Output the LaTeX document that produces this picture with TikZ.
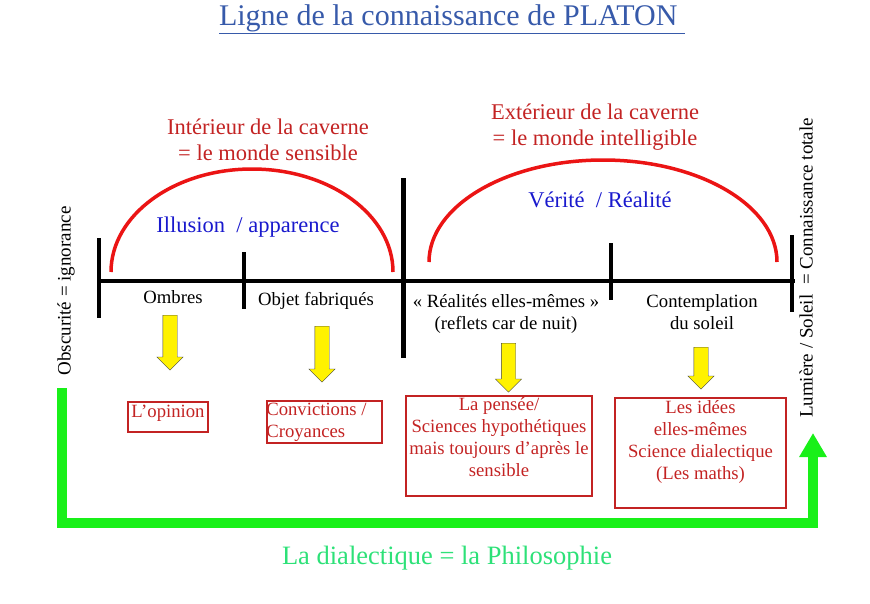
\documentclass[tikz,border=0pt]{standalone}
\usepackage{fontspec}
\setmainfont{Liberation Serif}
\usepackage{tikz}
\usetikzlibrary{shapes,arrows,arrows.meta}
\definecolor{titleblue}{RGB}{55,90,170}
\definecolor{darkred}{RGB}{195,35,35}
\definecolor{arcred}{RGB}{235,20,20}
\definecolor{txtblue}{RGB}{25,25,205}
\definecolor{brightgreen}{RGB}{25,240,25}
\definecolor{lightgreen}{RGB}{45,225,120}
\tikzstyle{zone} = [text=darkred, align=center, font=\fontsize{22.5}{25.5}\selectfont]
\tikzstyle{state} = [text=txtblue, font=\fontsize{22.5}{25}\selectfont]
\tikzstyle{stage} = [align=center, inner sep=0pt, font=\fontsize{18.7}{22}\selectfont]
\tikzstyle{pole} = [rotate=90, inner sep=0pt, font=\fontsize{19}{22}\selectfont]
\tikzstyle{level} = [draw=darkred, line width=1.8pt, rectangle, inner sep=0pt]
\tikzstyle{leveltext} = [text=darkred, align=center, inner sep=0pt, font=\fontsize{18.7}{22}\selectfont]
\tikzstyle{down} = [single arrow, draw=black!75, fill=yellow, rotate=-90, anchor=tail, inner xsep=0pt,
                    inner ysep=7pt, minimum width=26pt, single arrow head extend=6pt]
\tikzstyle{axis} = [line width=4.5pt]
\tikzstyle{dome} = [draw=arcred, line width=3.5pt]
\tikzstyle{dialectic} = [draw=brightgreen, line width=10pt, -{Triangle[width=26pt,length=24pt]}]

\begin{document}
\begin{tikzpicture}[x=1pt,y=-1pt]
                        \useasboundingbox (0,0) rectangle (870,603);
                        \node[text=titleblue, font=\fontsize{30}{34}\selectfont] (title) at (452,19)
                            {\underline{Ligne de la connaissance de PLATON\ }};

                        \coordinate (axisL) at (99,281);
                        \coordinate (axisR) at (795,281);
                        \draw[axis] (axisL) -- (axisR);
                        \draw[axis] (99,238) -- (99,318);
                        \draw[axis] (244,252) -- (244,309);
                        \draw[axis] (403.5,178) -- (403.5,358);
                        \draw[axis] (611,243) -- (611,300);
                        \draw[axis] (792,235) -- (792,312);

                        \coordinate (insideA) at (111,272);
                        \coordinate (outsideA) at (429,262);
                        \draw[dome] (insideA) arc[start angle=180, end angle=0, x radius=141pt, y radius=103pt];
                        \draw[dome] (outsideA) arc[start angle=180, end angle=0, x radius=174pt, y radius=102pt];

                        \node[zone] (inside) at (268,140) {Intérieur de la caverne\\= le monde sensible};
                        \node[zone] (outside) at (595,127) {Extérieur de la caverne\\= le monde intelligible};
                        \node[state] (illusion) at (248,227) {Illusion \ / apparence};
                        \node[state] (truth) at (600,200) {Vérité \ / Réalité};

                        \node[stage] (ombres) at (173,297) {Ombres};
                        \node[stage] (objets) at (316,301) {Objet fabriqués};
                        \node[stage] (realites) at (506,314) {« Réalités elles-mêmes »\\(reflets car de nuit)};
                        \node[stage] (soleil) at (702,312) {Contemplation\\du soleil};

                        \node[down, minimum height=55pt] (d1) at (170,315) {};
                        \node[down, minimum height=56pt] (d2) at (322,326) {};
                        \node[down, minimum height=49pt] (d3) at (508.5,343) {};
                        \node[down, minimum height=42pt] (d4) at (701,347) {};

                        \node[level, minimum width=80, minimum height=30] (opinion) at (168,417) {};
                        \node[level, minimum width=115, minimum height=42] (croyances) at (324.5,422) {};
                        \node[level, minimum width=186, minimum height=100] (pensee) at (499,446) {};
                        \node[level, minimum width=171, minimum height=110] (idees) at (700.5,453) {};
                        \node[leveltext, anchor=north] (opiniontxt) at ([yshift=-4]opinion.north) {L’opinion};
                        \node[leveltext, anchor=north west, align=left] (croyancestxt) at ([yshift=-3]croyances.north west)
                            {Convictions /\\Croyances};
                        \node[leveltext, anchor=north] (penseetxt) at ([yshift=-2.5]pensee.north)
                            {La pensée/\\Sciences hypothétiques\\mais toujours d’après le\\sensible};
                        \node[leveltext, anchor=north] (ideestxt) at ([yshift=-3]idees.north)
                            {Les idées\\elles-mêmes\\Science dialectique\\(Les maths)};

                        \node[pole] (obscurite) at (66,291) {Obscurité = ignorance};
                        \node[pole] (lumiere) at (806,268) {Lumière / Soleil \ = Connaissance totale};

                        \coordinate (gstart) at (62,388);
                        \coordinate (gend) at (813,433);
                        \draw[dialectic] (gstart) -- ++(0,135) -| (gend);
                        \node[text=lightgreen, font=\fontsize{26.5}{30}\selectfont] (philo) at (447,558)
                            {La dialectique = la Philosophie};
                    \end{tikzpicture}
\end{document}
